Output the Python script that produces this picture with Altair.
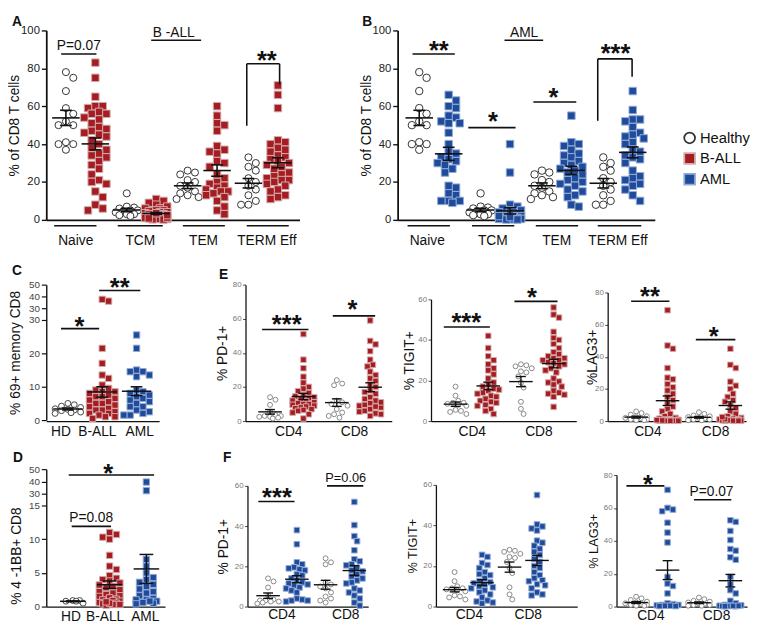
import altair as alt
import numpy as np
import pandas as pd

# ------------------------------------------------------------------
# Values (percent of cells)
# ------------------------------------------------------------------
KINDS = ["Healthy", "B-ALL", "AML"]
SUBSETS = ["Naive", "TCM", "TEM", "TERM Eff"]
COHORTS = ["HD", "B-ALL", "AML"]
CD_LABELS = ["CD4", "CD8"]

HEALTHY_NAIVE = [78, 75, 68, 59, 56, 52, 50, 50, 41, 40, 40, 37]
HEALTHY_TCM = [14, 7, 6.5, 6, 5, 5, 4.5, 4, 3, 3, 2.5, 2]
HEALTHY_TEM = [26, 25, 24, 21, 20, 18, 17, 15, 14, 13, 12, 11]
HEALTHY_TERM = [33, 30, 28, 26, 22, 20, 18, 16, 13, 10, 8, 8]

BALL_NAIVE = [83, 75, 65, 60, 60, 59, 57, 56, 56, 54, 53, 51, 49, 48, 47, 46, 45, 44, 42, 40,
              38, 37, 35, 34, 33, 31, 29, 27, 24, 21, 20, 19, 15, 12, 8, 6, 5]
BALL_TCM = [11, 10, 9, 8, 7, 6, 6, 5, 5, 5, 4.5, 4, 4, 3.5, 3, 3, 3, 2.5, 2, 2, 2, 2, 1.5, 1.5,
            1, 1, 1, 1, 0.8, 0.5, 0.5, 0.3, 0.2, 1.2, 2.5, 3.5, 0.8]
BALL_TEM = [60, 55, 51, 50, 47, 39, 37, 36, 35, 31, 30, 28, 24, 22, 20, 19, 18, 17, 16, 15, 15,
            14, 13, 12, 10, 7, 5, 3]
BALL_TERM = [71, 66, 59, 42, 41, 40, 38, 37, 36, 34, 33, 32, 31, 30, 29, 28, 27, 25, 24, 23, 22,
             21, 21, 20, 19, 18, 16, 15, 13, 12, 11]

AML_NAIVE = [66, 63, 60, 59, 55, 54, 52, 51, 51, 46, 40, 36, 35, 33, 32, 31, 30, 29, 27, 25, 18,
             17, 14, 13, 10, 10, 10, 9]
AML_TCM = [40, 25, 8, 7, 6, 5, 5, 4, 4, 3, 3, 2, 2, 2, 1, 1, 1, 1, 0.5, 0.5, 0.5, 0.3, 0.2, 0.2,
           3, 2, 1.5]
AML_TEM = [55, 41, 40, 39, 37, 35, 34, 33, 31, 30, 29, 28, 27, 26, 25, 24, 22, 21, 20, 19, 18, 16,
           15, 13, 12, 8, 7]
AML_TERM = [68, 58, 53, 53, 52, 49, 46, 45, 44, 43, 41, 40, 37, 36, 34, 33, 32, 30, 26, 23, 22,
            21, 19, 18, 16, 13, 10]

CD69_HD = [5, 4.6, 4.2, 3.8, 3.4, 3.2, 3, 2.8, 2.4, 2.2, 2]
CD69_BALL = [37.5, 36, 21.5, 17, 13.5, 12.5, 10.5, 9.5, 9, 8.5, 8.5, 8, 7.5, 7, 7, 6.5, 6, 5.5,
             5, 5, 4.5, 4, 3.5, 3, 3, 2.5, 2, 2, 1.5, 1, 1, 0.5]
CD69_AML = [25.5, 21.5, 15, 14.5, 14.5, 13.5, 13, 9, 8.5, 8, 7.5, 7, 6.5, 6, 5.5, 5, 4, 4, 3,
            2.5, 2, 1.5, 1.5]

BB_HD = [0.9, 0.9, 0.8, 0.8, 0.5]
BB_BALL = [11, 10.7, 10.3, 10, 7.6, 6, 5.5, 4.6, 4.2, 4, 3.8, 3.5, 3.2, 3, 2.8, 2.5, 2.2, 2, 1.8,
           1.6, 1.5, 1.3, 1.1, 1, 0.9, 0.8, 0.6, 0.5, 0.4, 0.3, 0.2, 0.3, 0.5, 0.7]
BB_AML = [39.5, 32.5, 7, 6, 5, 4.3, 4, 3.6, 3.3, 3, 2.6, 2.2, 2, 1.6, 1.2, 1, 1, 0.8, 0.6, 0.5,
          0.4, 0.8]

PD1_HD_CD4 = [14, 12.5, 9.5, 5.5, 3.5, 3, 3, 2.5, 2.5, 2, 1.5]
PD1_HD_CD8 = [24, 22, 21, 12, 11, 10, 9, 7, 5, 4, 3, 2]
TIGIT_HD_CD4 = [17, 12.5, 10, 9, 9, 8.5, 8, 7.5, 5.5, 5, 4.5, 3.5]
TIGIT_HD_CD8 = [28, 27.5, 27, 26, 24.5, 24, 22, 19, 16.5, 9.5, 6, 3.5]
LAG3_HD_CD4 = [6, 5, 4, 3, 2.5, 2, 1.5, 1, 1, 0.5, 0.5]
LAG3_HD_CD8 = [5.5, 4.5, 3.5, 3, 2.5, 2, 1.5, 1, 1, 0.5, 0.5]

PD1_BALL_CD4 = [51, 36, 31, 26, 22.5, 20, 19, 17.5, 16.5, 15, 14.5, 14, 13.5, 13, 12, 11.5, 11,
                10.5, 10, 10, 9.5, 9, 8.5, 8, 7.5, 7, 6.5, 6, 5, 4, 1.5]
PD1_BALL_CD8 = [59, 47, 45, 41, 36, 33, 32, 29, 27, 25, 23.5, 21.5, 20, 18, 17, 16, 14, 13, 12,
                10.5, 9, 8, 7, 5.5, 4.5, 3, 11, 9.5, 8.5, 6, 4]
TIGIT_BALL_CD4 = [42, 36, 32, 30, 28, 26, 25, 23, 21, 19, 18, 17, 16, 15.5, 15, 14, 13.5, 12.5,
                  12, 11, 10, 9.5, 9, 8, 7.5, 6, 5, 3.5]
TIGIT_BALL_CD8 = [56, 52.5, 51, 44, 41, 40, 38, 36, 34, 33, 32, 31, 31, 30, 30, 29, 28.5, 28, 27,
                  26, 25, 24, 21, 19.5, 19, 18, 17, 15, 14, 13, 13.5, 12, 7]
LAG3_BALL_CD4 = [69, 47, 45, 33, 27, 26, 23, 21, 19, 17, 15, 13, 11, 9, 7.5, 6, 4.5, 3, 2, 1.5,
                 1, 1, 0.8, 0.5, 0.5, 0.3, 0.3, 0.2, 0.2, 0.2, 0.4, 0.6]
LAG3_BALL_CD8 = [45, 35, 33, 24.5, 22, 20, 17, 15, 13, 12, 10, 8, 6, 4.5, 3, 2, 1.5, 1, 1, 0.8,
                 0.5, 0.5, 0.3, 0.3, 0.2, 0.2, 0.5, 1.2, 2.5]

PD1_AML_CD4 = [38, 31, 22, 21, 19.5, 19, 18.5, 18, 16, 15.5, 14, 13, 12, 11.5, 11, 10.5, 9.5, 9,
               8, 7, 4, 3.5, 3, 3, 2.5]
PD1_AML_CD8 = [52, 40.5, 35, 32.5, 28, 23.5, 22.5, 21, 20.5, 19, 18, 17.5, 16, 15, 14, 13, 12,
               11.5, 9, 8, 7, 5.5, 4, 2, 0.5]
TIGIT_AML_CD4 = [25.5, 24.5, 21.5, 20.5, 19, 17, 16, 15.5, 14, 12.5, 12, 11.5, 11, 10, 9.5, 9, 8,
                 7, 6, 4.5, 3, 2.5, 2, 1.5]
TIGIT_AML_CD8 = [55, 40.5, 39.5, 38.5, 37.5, 32.5, 31.5, 30, 28.5, 27, 25.5, 23.5, 22, 20, 19, 17,
                 15.5, 14, 13, 12.5, 11, 10.5, 9, 7, 6, 5.5]
LAG3_AML_CD4 = [71, 60, 59, 58, 51, 45, 39, 18, 14, 12.5, 8, 2, 1.5, 1, 1, 0.8, 0.5, 0.5, 0.3, 0.3]
LAG3_AML_CD8 = [52.5, 51.5, 46, 40.5, 35, 34, 30, 28.5, 18, 13.5, 10, 8, 3.5, 2, 1, 0.8, 0.5, 0.5,
                0.3, 0.3, 0.2, 0.2, 0.5, 0.4]

# ------------------------------------------------------------------
# Style
# ------------------------------------------------------------------
FONT = "Liberation Sans, Arial, sans-serif"
NARROW = "Liberation Sans Narrow, Liberation Sans, Arial Narrow, sans-serif"
INK = "#111111"
FILL = {"Healthy": "white", "B-ALL": "#a51d22", "AML": "#1f4b9b"}
EDGE = {"Healthy": "#333333", "B-ALL": "#d3abab", "AML": "#93aad6"}
SHAPE = {"Healthy": "circle", "B-ALL": "square", "AML": "square"}


def swarm(vals, ypx, d, maxhw):
    """Deterministic beeswarm offsets (pixels) so markers do not overlap."""
    step = d * 0.5
    cands = [0.0]
    k = 1
    while k * step <= maxhw + 1e-6:
        cands += [k * step, -k * step]
        k += 1
    order = sorted(range(len(vals)), key=lambda i: -vals[i])
    placed, offs = [], [0.0] * len(vals)
    for i in order:
        y = ypx(vals[i])
        best, best_gap = 0.0, -1.0
        for cx in cands:
            gap = min((((cx - px) ** 2 + (y - py) ** 2) ** 0.5 for px, py in placed), default=1e9)
            if gap >= d * 0.98:
                best = cx
                break
            if gap > best_gap:
                best, best_gap = cx, gap
        placed.append((best, y))
        offs[i] = best
    return offs


def make_panel(c):
    unit, L = c["unit"], c["L"]
    xdom = [-c["rel0"] / unit, (L - c["rel0"]) / unit]
    ydom, yrng = c["ydom"], c["yrng"]
    xs = alt.Scale(domain=xdom, range=[0, L], nice=False, zero=False)
    ys = alt.Scale(domain=ydom, range=yrng, nice=False, zero=False)
    xa = alt.Axis(labels=False, ticks=False, title=None, grid=False,
                  domainColor=INK, domainWidth=c["xdw"])
    ya = alt.Axis(**c["yaxis"])

    def X(f):
        return alt.X(f, type="quantitative", scale=xs, axis=xa)

    def Y(f):
        return alt.Y(f, type="quantitative", scale=ys, axis=ya)

    def ypx(v):
        return float(np.interp(v, ydom, yrng))

    rows = []
    for gx, kind, vals in c["groups"]:
        offs = swarm(vals, ypx, c["d"], c["maxhw"])
        for v, o in zip(vals, offs):
            rows.append({"g": gx, "x": gx + o / unit, "v": v, "kind": kind})
    df = pd.DataFrame(rows)

    layers = []
    if c.get("legend") is not None:
        leg = c["legend"]
        layers.append(
            alt.Chart(df).mark_point(filled=True, opacity=1, size=c["sizes"]["B-ALL"], strokeWidth=1)
            .encode(
                x=X("x"), y=Y("v"),
                shape=alt.Shape("kind:N", scale=alt.Scale(domain=KINDS, range=[SHAPE[k] for k in KINDS]), legend=leg),
                fill=alt.Fill("kind:N", scale=alt.Scale(domain=KINDS, range=[FILL[k] for k in KINDS]), legend=leg),
                stroke=alt.Stroke("kind:N", scale=alt.Scale(domain=KINDS, range=[c["hstroke"], EDGE["B-ALL"], EDGE["AML"]]), legend=leg),
            )
        )
    else:
        for kind in KINDS:
            sub = df[df["kind"] == kind]
            if len(sub) == 0:
                continue
            stroke = c["hstroke"] if kind == "Healthy" else EDGE[kind]
            layers.append(
                alt.Chart(sub).mark_point(shape=SHAPE[kind], filled=True, fill=FILL[kind], stroke=stroke,
                                          strokeWidth=1, size=c["sizes"][kind], opacity=1)
                .encode(x=X("x"), y=Y("v"))
            )

    mhw, chw = c["mean_hw"] / unit, c["cap_hw"] / unit
    agg = alt.Chart(df).transform_aggregate(
        m="mean(v)", se="stderr(v)", groupby=["g"]
    ).transform_calculate(
        lo="datum.m - datum.se", hi="datum.m + datum.se",
        xl=f"datum.g - {mhw}", xr=f"datum.g + {mhw}",
        cl=f"datum.g - {chw}", cr=f"datum.g + {chw}",
    )
    rk = dict(color=INK, strokeWidth=c["mw"])
    layers += [
        agg.mark_rule(**rk).encode(x=X("xl"), x2=alt.X2("xr"), y=Y("m")),
        agg.mark_rule(**rk).encode(x=X("g"), y=Y("lo"), y2=alt.Y2("hi")),
        agg.mark_rule(**rk).encode(x=X("cl"), x2=alt.X2("cr"), y=Y("lo")),
        agg.mark_rule(**rk).encode(x=X("cl"), x2=alt.X2("cr"), y=Y("hi")),
    ]

    # category labels under the axis
    cats = pd.DataFrame({"x": c["cat_x"], "y": [c["cat_y"]] * len(c["cat_x"]), "t": c["cat_t"]})
    layers.append(
        alt.Chart(cats).mark_text(font=FONT, fontSize=c["cat_fs"], color=INK, baseline="alphabetic",
                                  align="center")
        .encode(x=X("x"), y=Y("y"), text="t:N")
    )
    if c.get("under"):
        und = pd.DataFrame({"x": [u[0] for u in c["under"]], "x2": [u[1] for u in c["under"]],
                            "y": [c["under_y"]] * len(c["under"])})
        layers.append(alt.Chart(und).mark_rule(color=INK, strokeWidth=1.6)
                      .encode(x=X("x"), x2=alt.X2("x2"), y=Y("y")))
    if c.get("lines"):
        ln = pd.DataFrame(c["lines"], columns=["x", "x2", "y", "y2"])
        layers.append(alt.Chart(ln).mark_rule(color=INK, strokeWidth=1.6)
                      .encode(x=X("x"), x2=alt.X2("x2"), y=Y("y"), y2=alt.Y2("y2")))
    if c.get("stars"):
        st = pd.DataFrame(c["stars"], columns=["t", "x", "y"])
        layers.append(alt.Chart(st).mark_text(font=FONT, fontSize=26, fontWeight="bold", color=INK,
                                              baseline="alphabetic", align="center")
                      .encode(x=X("x"), y=Y("y"), text="t:N"))
    if c.get("ptexts"):
        pt = pd.DataFrame(c["ptexts"], columns=["t", "x", "y"])
        layers.append(alt.Chart(pt).mark_text(font=FONT, fontSize=c.get("pfs", 14), color=INK,
                                              baseline="alphabetic", align="center")
                      .encode(x=X("x"), y=Y("y"), text="t:N"))
    lt, lx, ly = c["letter"]
    layers.append(
        alt.Chart(pd.DataFrame({"t": [lt]})).mark_text(font=FONT, fontSize=14, fontWeight="bold",
                                                       color=INK, align="left", baseline="alphabetic")
        .encode(x=alt.value(lx), y=alt.value(ly), text="t:N")
    )
    return alt.layer(*layers).properties(width=c["W"], height=c["H"])


def ab_axis(title):
    return dict(values=[0, 20, 40, 60, 80, 100], title=title, titleX=-25, grid=False,
                domainColor=INK, domainWidth=1.8, tickColor=INK, tickWidth=1.4, tickSize=5,
                labelFont=NARROW, labelFontSize=11.5, labelColor="#222", labelPadding=2,
                titleFont=FONT, titleFontSize=14, titleFontWeight="normal", titleColor=INK,
                labelOverlap=False)


def cd_axis(title, values, tx, ty=None):
    d = dict(values=values, title=title, titleX=tx, grid=False, labelExpr="round(datum.value)",
             domainColor=INK, domainWidth=1.4, tickColor=INK, tickWidth=1.2, tickSize=5,
             labelFont=FONT, labelFontSize=10, labelColor="#444", labelPadding=2,
             titleFont=FONT, titleFontSize=14, titleFontWeight="normal", titleColor=INK,
             labelOverlap=False)
    if ty is not None:
        d["titleY"] = ty
    return d


def small_axis(title, values, tx, fs=14, ty=None):
    d = dict(values=values, title=title, titleX=tx, grid=False,
             domainColor=INK, domainWidth=1.3, tickColor="#444", tickWidth=1, tickSize=3,
             labelFont=FONT, labelFontSize=8, labelColor="#777", labelPadding=1.5,
             titleFont=FONT, titleFontSize=fs, titleFontWeight="normal", titleColor=INK,
             labelOverlap=False)
    if ty is not None:
        d["titleY"] = ty
    return d


AB_SIZES = {"Healthy": 52, "B-ALL": 58, "AML": 58}
CD_SIZES = {"Healthy": 36, "B-ALL": 42, "AML": 42}
EF_SIZES = {"Healthy": 25, "B-ALL": 32, "AML": 32}

# ------------------------------------------------------------------
# Panel A
# ------------------------------------------------------------------
pA = make_panel(dict(
    W=338, H=210, L=258, rel0=35, unit=62, ydom=[0, 100], yrng=[210, 17],
    groups=[(i - 0.242, "Healthy", h) for i, h in enumerate([HEALTHY_NAIVE, HEALTHY_TCM, HEALTHY_TEM, HEALTHY_TERM])]
    + [(i + 0.242, "B-ALL", b) for i, b in enumerate([BALL_NAIVE, BALL_TCM, BALL_TEM, BALL_TERM])],
    d=7.5, maxhw=14, sizes=AB_SIZES, hstroke="#333333", mean_hw=14, cap_hw=6, mw=1.6, xdw=1.8,
    yaxis=ab_axis("% of CD8 T cells"),
    cat_t=SUBSETS, cat_x=[-0.08, 0.98, 2.02, 3.06], cat_y=-13.5, cat_fs=14,
    under=[(-0.435, 0.26), (0.61, 1.35), (1.68, 2.37), (2.73, 3.42)], under_y=-3.1,
    lines=[(-0.32, 0.26, 87.6, 87.6), (1.16, 1.98, 94.8, 94.8), (2.73, 3.27, 82.4, 82.4),
           (2.73, 2.73, 82.4, 49.7), (3.27, 3.27, 82.4, 71.5)],
    stars=[("**", 3.06, 79.8)],
    ptexts=[("P=0.07", -0.03, 89.8), ("B -ALL", 1.53, 96.6)],
    letter=("A", -35, 12),
))

# ------------------------------------------------------------------
# Panel B (with legend)
# ------------------------------------------------------------------
LEGEND = alt.Legend(title=None, orient="none", legendX=290, legendY=119, labelFont=FONT,
                    labelFontSize=15, labelColor=INK, symbolSize=120, symbolStrokeWidth=1.8,
                    rowPadding=2, padding=0, labelOffset=3)
pB = make_panel(dict(
    W=262, H=210, L=262, rel0=37, unit=62.5, ydom=[0, 100], yrng=[210, 17],
    groups=[(i - 0.24, "Healthy", h) for i, h in enumerate([HEALTHY_NAIVE, HEALTHY_TCM, HEALTHY_TEM, HEALTHY_TERM])]
    + [(i + 0.24, "AML", a) for i, a in enumerate([AML_NAIVE, AML_TCM, AML_TEM, AML_TERM])],
    d=7.5, maxhw=14, sizes=AB_SIZES, hstroke="#333333", mean_hw=14, cap_hw=6, mw=1.6, xdw=1.8,
    yaxis=ab_axis("% of CD8 T cells"),
    cat_t=SUBSETS, cat_x=[-0.11, 0.96, 2.0, 3.0], cat_y=-13.5, cat_fs=14,
    under=[(-0.43, 0.26), (0.62, 1.31), (1.66, 2.35), (2.67, 3.38)], under_y=-3.1,
    lines=[(-0.35, 0.34, 87.6, 87.6), (1.15, 1.78, 94.8, 94.8), (0.56, 1.33, 48.7, 48.7),
           (1.62, 2.32, 62.2, 62.2), (2.67, 3.23, 85, 85), (2.67, 2.67, 85, 52.3),
           (3.23, 3.23, 85, 75.6)],
    stars=[("**", 0.08, 85.0), ("*", 0.96, 47.2), ("*", 1.95, 60.1), ("***", 2.96, 83.5)],
    ptexts=[("AML", 1.47, 96.6)],
    letter=("B", -36, 12),
    legend=LEGEND,
))

# ------------------------------------------------------------------
# Row 2: C and E
# ------------------------------------------------------------------
pC = make_panel(dict(
    W=183, H=164, L=115, rel0=22, unit=35, ydom=[0, 30, 30.001, 50], yrng=[163, 61, 49, 25],
    groups=[(0, "Healthy", CD69_HD), (1, "B-ALL", CD69_BALL), (2, "AML", CD69_AML)],
    d=6.5, maxhw=13, sizes=CD_SIZES, hstroke="#444444", mean_hw=15, cap_hw=6, mw=1.5, xdw=1.4,
    yaxis=cd_axis("% 69+ memory CD8", [0, 10, 20, 30, 30.001, 40, 50], -24),
    cat_t=COHORTS, cat_x=[-0.2, 0.86, 2.09], cat_y=-4.7, cat_fs=14,
    lines=[(-0.2, 0.91, 27.4, 27.4), (0.91, 2.11, 45, 45)],
    stars=[("*", 0.34, 25.6), ("**", 1.51, 40.0)],
    letter=("C", -35, 15),
))

E_KW = dict(d=5.5, maxhw=11, sizes=EF_SIZES, hstroke="#888888", mean_hw=12, cap_hw=5, mw=1.4,
            xdw=1.3, cat_t=CD_LABELS, cat_fs=14)

pE1 = make_panel(dict(
    W=169, H=164, L=149, rel0=25, unit=34, ydom=[0, 80], yrng=[164, 25],
    groups=[(0, "Healthy", PD1_HD_CD4), (1, "B-ALL", PD1_BALL_CD4),
            (2, "Healthy", PD1_HD_CD8), (3, "B-ALL", PD1_BALL_CD8)],
    yaxis=small_axis("% PD-1+", [0, 20, 40, 60, 80], -16),
    cat_x=[0.56, 2.53], cat_y=-8.6,
    lines=[(-0.24, 1.15, 53.7, 53.7), (1.88, 3.15, 61.7, 61.7)],
    stars=[("***", 0.5, 51.4), ("*", 2.47, 60.6)],
    letter=("E", -27, 19), **E_KW,
))
pE2 = make_panel(dict(
    W=160, H=164, L=148, rel0=25, unit=33.3, ydom=[0, 60], yrng=[164, 40],
    groups=[(0, "Healthy", TIGIT_HD_CD4), (1, "B-ALL", TIGIT_BALL_CD4),
            (2, "Healthy", TIGIT_HD_CD8), (3, "B-ALL", TIGIT_BALL_CD8)],
    yaxis=small_axis("% TIGIT+", [0, 20, 40, 60], -15),
    cat_x=[0.51, 2.55], cat_y=-7.3,
    lines=[(-0.36, 1.05, 46.4, 46.4), (1.8, 3.12, 59, 59)],
    stars=[("***", 0.33, 44.6), ("*", 2.34, 56.7)],
    letter=("", 0, 0), **E_KW,
))
pE3 = make_panel(dict(
    W=141, H=164, L=141, rel0=29, unit=32, ydom=[0, 80], yrng=[164, 33],
    groups=[(0, "Healthy", LAG3_HD_CD4), (1, "B-ALL", LAG3_BALL_CD4),
            (2, "Healthy", LAG3_HD_CD8), (3, "B-ALL", LAG3_BALL_CD8)],
    yaxis=small_axis("%LAG3+", [0, 20, 40, 60, 80], -8),
    cat_x=[0.375, 2.53], cat_y=-9.5,
    lines=[(-0.16, 1.06, 74.5, 74.5), (1.9, 3.16, 50.7, 50.7)],
    stars=[("**", 0.44, 72.0), ("*", 2.47, 47.6)],
    letter=("", 0, 0), **E_KW,
))

# ------------------------------------------------------------------
# Row 3: D and F
# ------------------------------------------------------------------
pD = make_panel(dict(
    W=185, H=159, L=121, rel0=27, unit=37.5, ydom=[0, 15, 30, 50], yrng=[159, 56, 44, 19],
    groups=[(0, "Healthy", BB_HD), (1, "B-ALL", BB_BALL), (2, "AML", BB_AML)],
    d=7, maxhw=13, sizes=CD_SIZES, hstroke="#444444", mean_hw=13, cap_hw=7, mw=1.5, xdw=1.4,
    yaxis=cd_axis("% 4 -1BB+ CD8", [0, 5, 10, 15, 30, 40, 50], -23, ty=107),
    cat_t=COHORTS, cat_x=[-0.05, 0.88, 1.97], cat_y=-2.1, cat_fs=14,
    lines=[(-0.11, 2.21, 45.2, 45.2), (-0.03, 1.04, 11.9, 11.9)],
    stars=[("*", 0.96, 39.6)],
    ptexts=[("P=0.08", 0.5, 12.5)],
    letter=("D", -34, 12),
))
pF1 = make_panel(dict(
    W=172, H=159, L=123, rel0=21, unit=29.3, ydom=[0, 60], yrng=[159, 36],
    groups=[(0, "Healthy", PD1_HD_CD4), (1, "AML", PD1_AML_CD4),
            (2, "Healthy", PD1_HD_CD8), (3, "AML", PD1_AML_CD8)],
    yaxis=small_axis("% PD-1+", [0, 20, 40, 60], -17),
    cat_x=[0.48, 2.7], cat_y=-6.3,
    lines=[(-0.34, 0.92, 52.2, 52.2), (2.05, 3.31, 60, 60)],
    stars=[("***", 0.31, 49.8)],
    ptexts=[("P=0.06", 2.7, 62)], pfs=13,
    letter=("F", -25, 12), **E_KW,
))
pF2 = make_panel(dict(
    W=164, H=159, L=144, rel0=19, unit=28, ydom=[0, 60], yrng=[159, 35],
    groups=[(0, "Healthy", TIGIT_HD_CD4), (1, "AML", TIGIT_AML_CD4),
            (2, "Healthy", TIGIT_HD_CD8), (3, "AML", TIGIT_AML_CD8)],
    yaxis=small_axis("% TIGIT+", [0, 20, 40, 60], -17, fs=13),
    cat_x=[0.54, 2.68], cat_y=-6.3,
    letter=("", 0, 0), **E_KW,
))
pF3 = make_panel(dict(
    W=133, H=159, L=133, rel0=20, unit=32, ydom=[0, 80], yrng=[159, 25],
    groups=[(0, "Healthy", LAG3_HD_CD4), (1, "AML", LAG3_AML_CD4),
            (2, "Healthy", LAG3_HD_CD8), (3, "AML", LAG3_AML_CD8)],
    yaxis=small_axis("% LAG3+", [0, 20, 40, 60, 80], -16, fs=13),
    cat_x=[0.47, 2.56], cat_y=-8.4,
    lines=[(-0.31, 0.9, 73.4, 73.4), (1.84, 3.03, 65, 65)],
    stars=[("*", 0.375, 69.3)],
    ptexts=[("P=0.07", 2.4, 67.5)],
    letter=("", 0, 0), **E_KW,
))

RES = dict(shape="independent", fill="independent", stroke="independent")
row1 = alt.hconcat(pA, pB, spacing=20, bounds="flush").resolve_scale(**RES)
row2 = alt.hconcat(pC, pE1, pE2, pE3, spacing=20, bounds="flush")
row3 = alt.hconcat(pD, pF1, pF2, pF3, spacing=20, bounds="flush")

chart = (
    alt.vconcat(row1, row2, row3, spacing=0, padding=0)
    .resolve_scale(**RES)
    .configure(font=FONT)
    .configure_view(stroke=None)
)

chart.save("out.html", embed_options={"renderer": "svg", "actions": False})
